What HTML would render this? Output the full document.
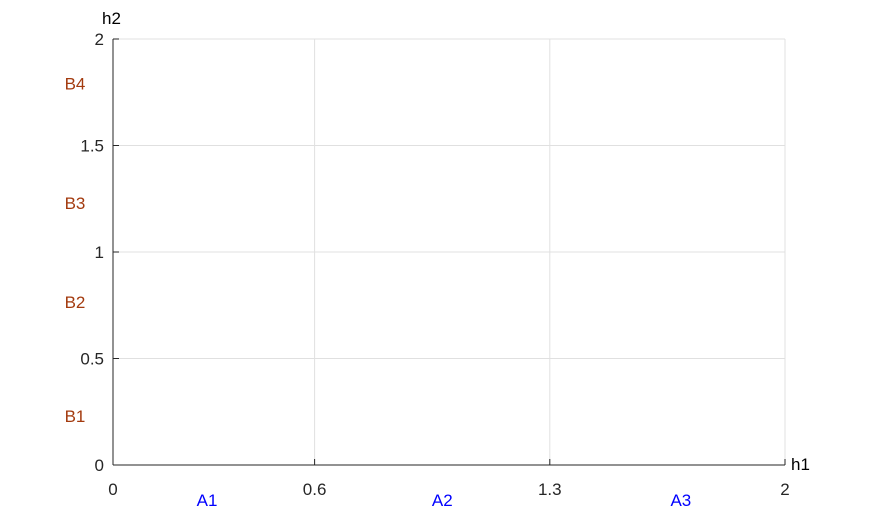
<!DOCTYPE html>
<html><head><meta charset="utf-8"><style>
html,body{margin:0;padding:0;background:#fff;}
svg{display:block;font-family:"Liberation Sans",sans-serif;}
</style></head><body>
<svg id="chart" width="869" height="524"></svg>
<script>
const xTicks=[0,0.6,1.3,2];
const xTickLabels=["0","0.6","1.3","2"];
const yTicks=[0,0.5,1,1.5,2];
const yTickLabels=["0","0.5","1","1.5","2"];
const xCatLabels=["A1","A2","A3"];
const xCatPos=[0.28,0.98,1.69];
const yCatLabels=["B1","B2","B3","B4"];
const yCatPos=[0.23,0.765,1.23,1.79];
const L=113,R=785,T=39,B=465;
const sx=v=>L+(R-L)*v/2, sy=v=>B-(B-T)*v/2;
const svg=document.getElementById('chart');const NS='http://www.w3.org/2000/svg';
function mk(t,a,txt){const e=document.createElementNS(NS,t);for(const k in a)e.setAttribute(k,a[k]);if(txt!==undefined)e.textContent=txt;svg.appendChild(e);return e;}
xTicks.forEach((v,i)=>{
 if(v>0){const g=mk('line',{x1:sx(v),x2:sx(v),y1:T,y2:B,stroke:'#e0e0e0'});
 
 }
 const tk=mk('line',{x1:sx(v),x2:sx(v),y1:B,y2:B-6,stroke:'#262626'});
 
 
 const t=mk('text',{x:sx(v),y:B+30,'text-anchor':'middle','font-size':17,fill:'#262626'},xTickLabels[i]);
 
 
});
yTicks.forEach((v,i)=>{
 if(v>0){const g=mk('line',{x1:L,x2:R,y1:sy(v),y2:sy(v),stroke:'#e0e0e0'});
 
 }
 const tk=mk('line',{x1:L,x2:L+6,y1:sy(v),y2:sy(v),stroke:'#262626'});
 
 
 const t=mk('text',{x:L-9,y:sy(v)+6,'text-anchor':'end','font-size':17,fill:'#262626'},yTickLabels[i]);
 
 
});
const ax=mk('line',{x1:L,x2:R,y1:B,y2:B,stroke:'#262626'});


const ay=mk('line',{x1:L,x2:L,y1:T,y2:B,stroke:'#262626'});


xCatLabels.forEach((s,i)=>{
 const t=mk('text',{x:sx(xCatPos[i]),y:506,'text-anchor':'middle','font-size':17,fill:'#0000ff'},s);
 
 
});
yCatLabels.forEach((s,i)=>{
 const t=mk('text',{x:75,y:sy(yCatPos[i])+6,'text-anchor':'middle','font-size':17,fill:'#a33a0e'},s);
 
 
});
const h1=mk('text',{x:791,y:470,'font-size':17,fill:'#000'},'h1');


const h2=mk('text',{x:102,y:24,'font-size':17,fill:'#000'},'h2');


</script>
</body></html>
